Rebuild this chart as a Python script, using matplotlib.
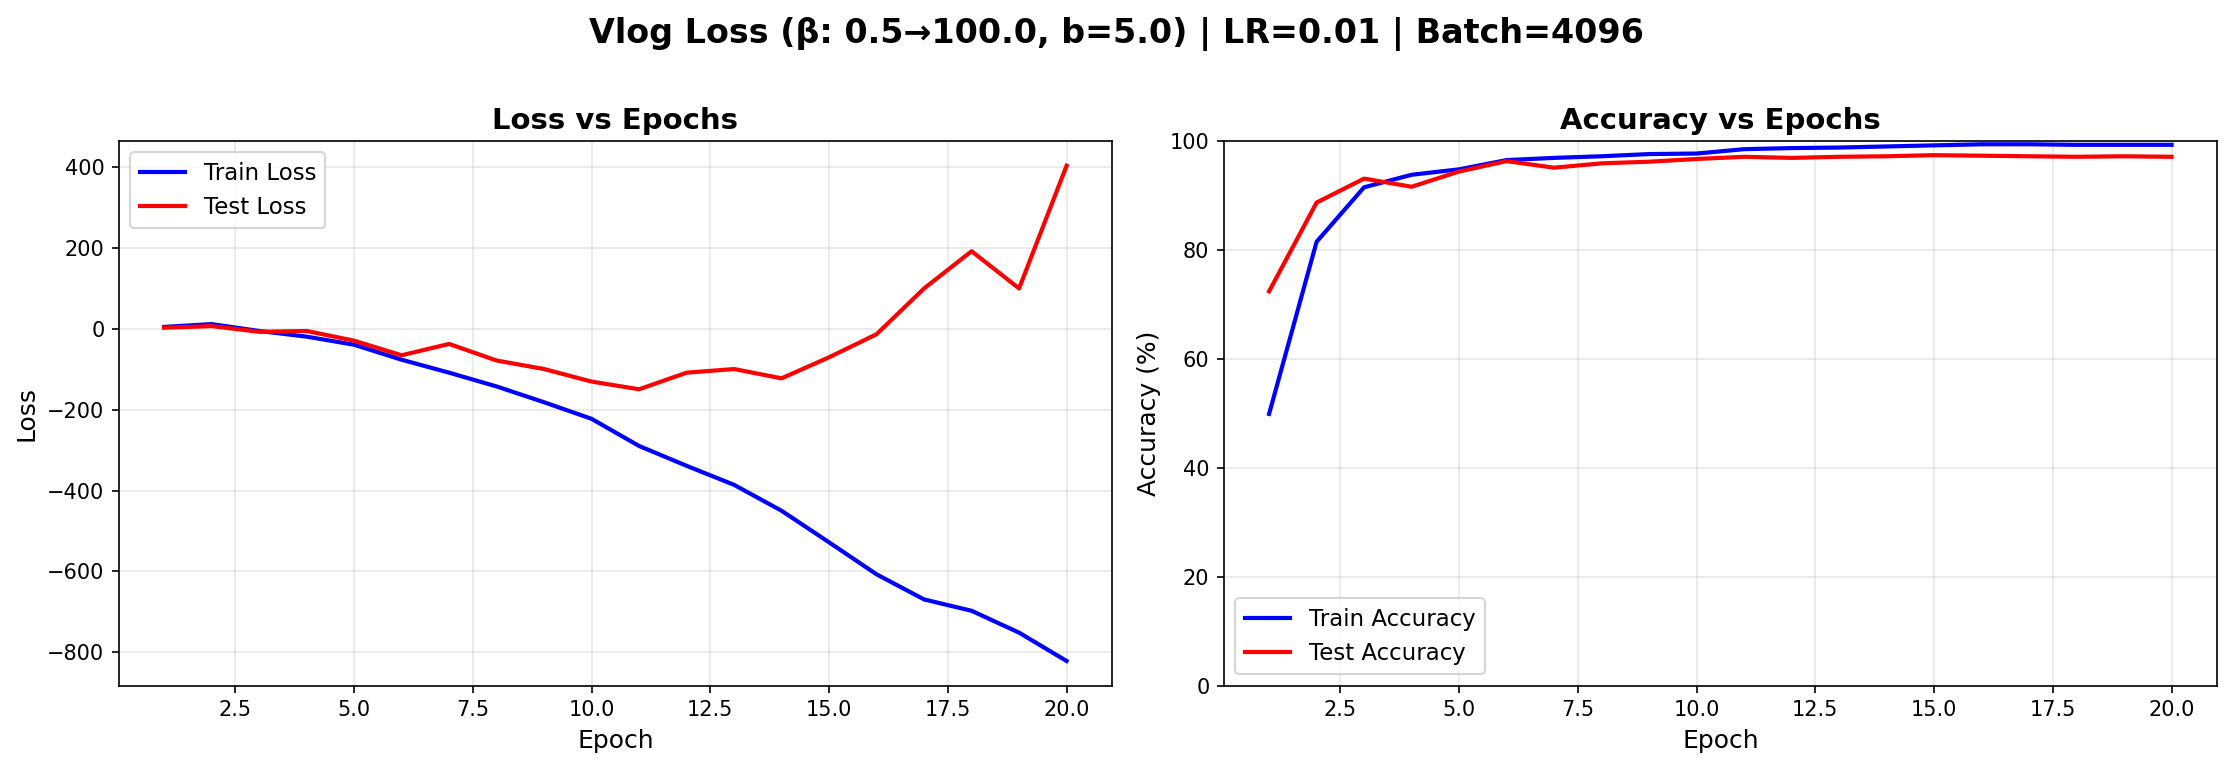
import matplotlib
matplotlib.use("Agg")
import matplotlib.pyplot as plt

epochs = list(range(1, 21))
train_loss = [4, 11, -6, -20, -40, -77, -109, -143, -182, -223,
              -290, -339, -386, -450, -528, -607, -669, -697, -751, -821]
test_loss = [2, 6, -8, -6, -30, -66, -38, -79, -100, -131,
             -150, -109, -100, -123, -71, -14, 99, 191, 99, 402]
train_acc = [49.9, 81.5, 91.5, 93.8, 94.8, 96.5, 96.9, 97.2, 97.6, 97.7,
             98.5, 98.7, 98.8, 99.0, 99.2, 99.4, 99.4, 99.3, 99.3, 99.3]
test_acc = [72.4, 88.7, 93.1, 91.6, 94.4, 96.3, 95.1, 95.9, 96.2, 96.7,
            97.1, 96.9, 97.1, 97.2, 97.4, 97.3, 97.2, 97.1, 97.2, 97.1]

suptitle = "Vlog Loss (β: 0.5→100.0, b=5.0) | LR=0.01 | Batch=4096"

fig, (ax1, ax2) = plt.subplots(1, 2, figsize=(14.88, 5.12), dpi=150)
fig.subplots_adjust(left=0.0533, right=0.99315, bottom=0.1071, top=0.8164, wspace=0.1131)

ax1.plot(epochs, train_loss, color="blue", linewidth=2, label="Train Loss")
ax1.plot(epochs, test_loss, color="red", linewidth=2, label="Test Loss")
ax1.set_xlabel("Epoch", fontsize=12)
ax1.set_ylabel("Loss", fontsize=12)
ax1.set_title("Loss vs Epochs", fontsize=14, fontweight="bold")
ax1.legend(loc="upper left", fontsize=11)
ax1.grid(True, alpha=0.3)

ax2.plot(epochs, train_acc, color="blue", linewidth=2, label="Train Accuracy")
ax2.plot(epochs, test_acc, color="red", linewidth=2, label="Test Accuracy")
ax2.set_xlabel("Epoch", fontsize=12)
ax2.set_ylabel("Accuracy (%)", fontsize=12)
ax2.set_title("Accuracy vs Epochs", fontsize=14, fontweight="bold")
ax2.set_ylim(0, 100)
ax2.legend(loc="lower left", fontsize=11)
ax2.grid(True, alpha=0.3)

fig.suptitle(suptitle, fontsize=16, fontweight="bold", y=0.978)

fig.savefig("out.png", dpi=150)
